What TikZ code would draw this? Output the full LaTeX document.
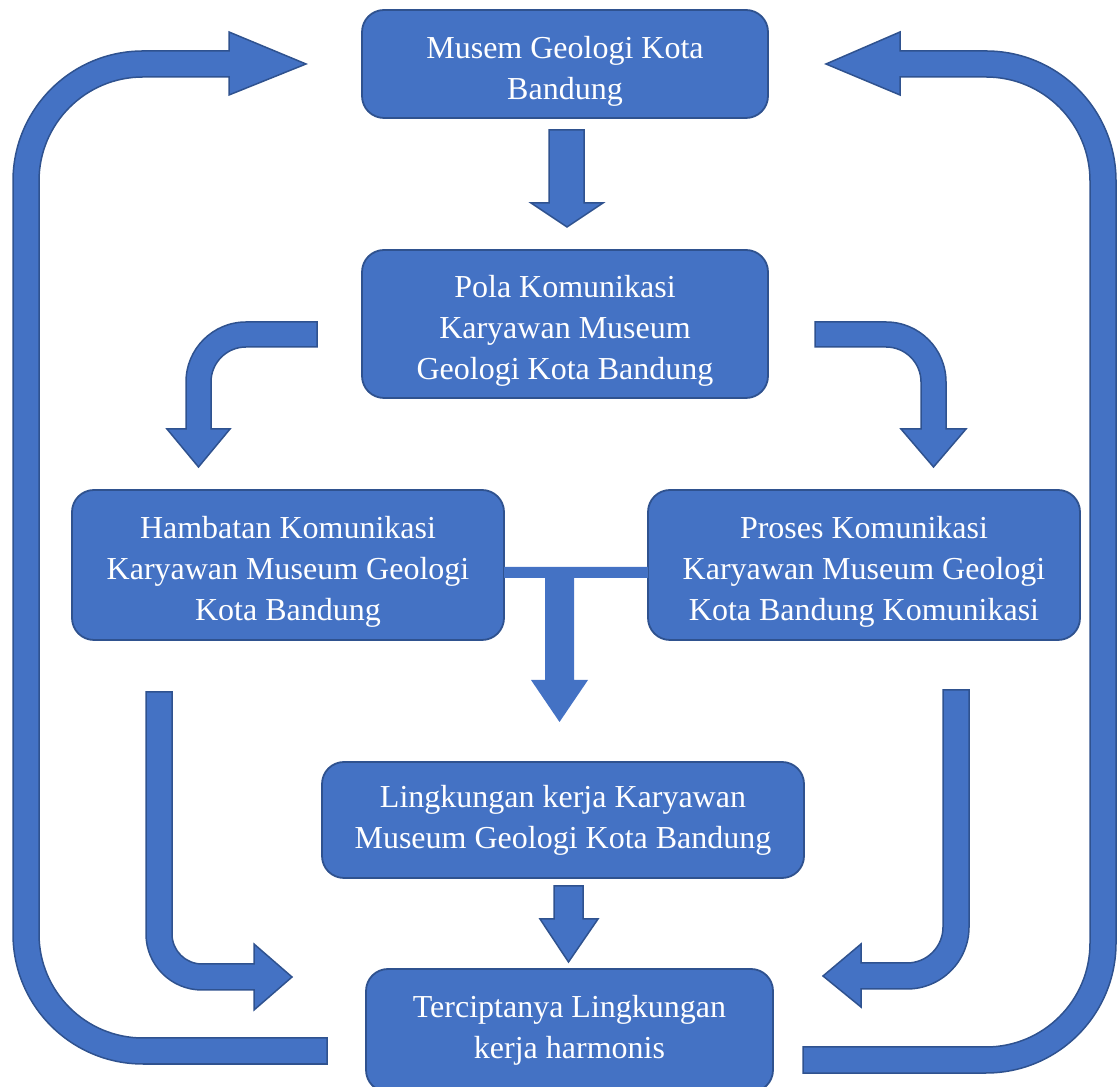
\documentclass[tikz,border=0pt]{standalone}
\usepackage{fontspec}
\setmainfont{Liberation Serif}

\definecolor{boxfill}{RGB}{68,114,196}
\definecolor{boxline}{RGB}{47,82,143}

% pushes the first line of a box text down a little
\newcommand{\topgap}{\rule{0pt}{18pt}}

\tikzset{
  box/.style={draw=boxline, fill=boxfill, line width=0.9pt, rounded corners=11pt,
    text=white, align=center, inner sep=0pt, font=\fontsize{16}{20.5}\selectfont},
  blockarrow/.style={draw=boxline, fill=boxfill, line width=0.75pt, line join=miter},
  plainarrow/.style={fill=boxfill}
}

\begin{document}
\begin{tikzpicture}[x=0.5pt, y=0.5pt]
  \useasboundingbox (0,0) rectangle (1118,1086);

  \node[box, minimum width=203pt, minimum height=54pt] (musem) at (565,1022)
    {\topgap Musem Geologi Kota\\Bandung};
  \node[box, minimum width=203pt, minimum height=74pt] (pola) at (565,762)
    {\topgap Pola Komunikasi\\Karyawan Museum\\Geologi Kota Bandung};
  \node[box, minimum width=216pt, minimum height=75pt] (hambatan) at (288,521)
    {\topgap Hambatan Komunikasi\\Karyawan Museum Geologi\\Kota Bandung};
  \node[box, minimum width=216pt, minimum height=75pt] (proses) at (864,521)
    {\topgap Proses Komunikasi\\Karyawan Museum Geologi\\Kota Bandung Komunikasi};
  \node[box, minimum width=241pt, minimum height=58pt] (lingkungan) at (563,266)
    {Lingkungan kerja Karyawan\\Museum Geologi Kota Bandung};
  \node[box, minimum width=203.5pt, minimum height=61.5pt] (harmonis) at (569.5,55.5)
    {Terciptanya Lingkungan\\kerja harmonis};

  % musem -> pola
  \draw[blockarrow] (549,956) -- (584,956) -- (584,883) -- (603,883) -- (567,859)
    -- (531,883) -- (549,883) -- cycle;

  % pola -> hambatan / proses
  \draw[blockarrow] (317,764) -- (246,764) arc[start angle=90, end angle=180, radius=60]
    -- (186,657) -- (167,657) -- (198.5,619) -- (230,657) -- (211,657) -- (211,704)
    arc[start angle=180, end angle=90, radius=35] -- (317,739) -- cycle;
  \draw[blockarrow] (815,764) -- (886,764) arc[start angle=90, end angle=0, radius=60]
    -- (946,657) -- (966,657) -- (933.5,619) -- (901,657) -- (921,657) -- (921,704)
    arc[start angle=0, end angle=90, radius=35] -- (815,739) -- cycle;

  % hambatan + proses -> lingkungan
  \fill[plainarrow] (504,519) -- (648,519) -- (648,508) -- (574,508) -- (574,406)
    -- (588,406) -- (559.5,364) -- (531,406) -- (545,406) -- (545,508) -- (504,508) -- cycle;

  % lingkungan -> harmonis
  \draw[blockarrow] (554,200) -- (583,200) -- (583,167) -- (598,167) -- (568.5,124)
    -- (540,167) -- (554,167) -- cycle;

  % hambatan / proses -> harmonis
  \draw[blockarrow] (146,394) -- (146,152) arc[start angle=180, end angle=270, radius=56]
    -- (254,96) -- (254,76) -- (292,109) -- (254,142) -- (254,122) -- (202,122)
    arc[start angle=270, end angle=180, radius=30] -- (172,394) -- cycle;
  \draw[blockarrow] (969,396) -- (969,159) arc[start angle=0, end angle=-90, radius=62]
    -- (861,97) -- (861,79) -- (823,110) -- (861,142) -- (861,123) -- (907,123)
    arc[start angle=-90, end angle=0, radius=36] -- (943,396) -- cycle;

  % harmonis -> musem (outer loops)
  \draw[blockarrow] (327,22) -- (143,22) arc[start angle=270, end angle=180, radius=130]
    -- (13,905) arc[start angle=180, end angle=90, radius=130]
    -- (229,1035) -- (229,1054) -- (306,1022) -- (229,991) -- (229,1009) -- (143,1009)
    arc[start angle=90, end angle=180, radius=104]
    -- (39,152) arc[start angle=180, end angle=270, radius=104] -- (327,48) -- cycle;
  \draw[blockarrow] (803,13) -- (986,13) arc[start angle=-90, end angle=0, radius=130]
    -- (1116,905) arc[start angle=0, end angle=90, radius=130]
    -- (900,1035) -- (900,1054) -- (826,1022) -- (900,991) -- (900,1009) -- (986,1009)
    arc[start angle=90, end angle=0, radius=104]
    -- (1090,143) arc[start angle=0, end angle=-90, radius=104] -- (803,39) -- cycle;
\end{tikzpicture}
\end{document}
